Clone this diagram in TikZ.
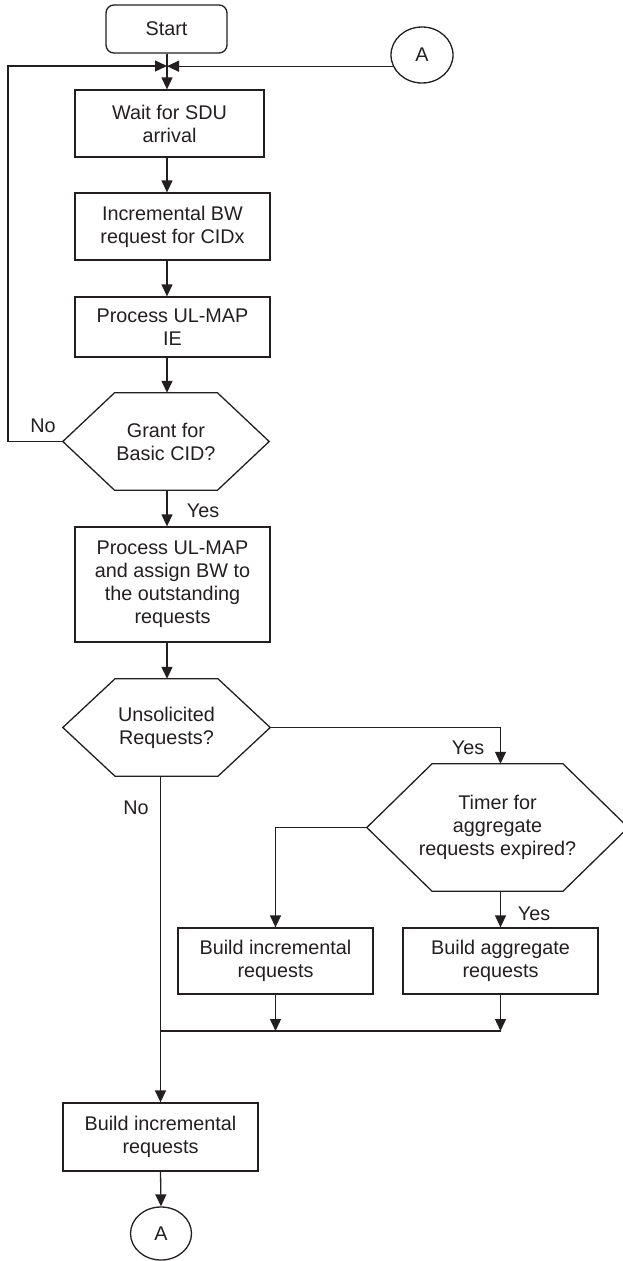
\documentclass[tikz,border=0pt]{standalone}
\usepackage{fontspec}
\setmainfont{Liberation Sans}
\usetikzlibrary{arrows.meta,shapes.geometric}
\definecolor{ink}{RGB}{35,31,32}

% hexagonal decision outline drawn around a plain rectangular node
\newcommand{\hexoutline}[2]{%
  \draw[line] (#1.west) -- ([xshift=-#2]#1.north) -- ([xshift=#2]#1.north)
    -- (#1.east) -- ([xshift=#2]#1.south) -- ([xshift=-#2]#1.south) -- cycle;}

\begin{document}
\begin{tikzpicture}[x=1pt,y=-1pt,
  txt/.style={font=\fontsize{19.8pt}{23pt}\selectfont, text=ink, align=center},
  line/.style={draw=ink, line width=1.3pt},
  arr/.style={line, -{Triangle[length=12pt,width=11pt]}},
  box/.style={txt, line, rectangle, inner sep=0pt},
  term/.style={box, rounded corners=8pt},
  hexnode/.style={txt, rectangle, inner sep=0pt},
  conn/.style={txt, line, ellipse, inner sep=0pt},
  lbl/.style={txt, inner sep=0pt}]
\useasboundingbox (0,0) rectangle (622,1261);

% main column
\node[term, minimum width=121pt, minimum height=48pt] (start) at (166.5,29) {Start};
\node[conn, minimum width=62pt, minimum height=56pt] (A1) at (422,55) {A};
\coordinate (jn) at (167,66);
\coordinate (lp) at (8,66);

\node[box, minimum width=189pt, minimum height=67pt] (b1) at (169.5,123.5) {Wait for SDU\\arrival};
\node[box, minimum width=195pt, minimum height=67pt] (b2) at (172.5,226.5) {Incremental BW\\request for CIDx};
\node[box, minimum width=195pt, minimum height=60pt] (b3) at (172.5,327) {Process UL-MAP\\IE};
\node[hexnode, minimum width=206pt, minimum height=97pt] (h1) at (166,441.5) {Grant for\\Basic CID?};
\hexoutline{h1}{51.5pt}
\node[box, minimum width=195pt, minimum height=115pt] (b4) at (172.5,584.5)
  {Process UL-MAP\\and assign BW to\\the outstanding\\requests};
\node[hexnode, minimum width=207pt, minimum height=97pt] (h2) at (166.5,727.5) {Unsolicited\\Requests?};
\hexoutline{h2}{51.5pt}

% right branch
\node[hexnode, minimum width=261pt, minimum height=127pt] (h3) at (497.5,827.5)
  {Timer for\\aggregate\\requests expired?};
\hexoutline{h3}{65.5pt}
\node[box, minimum width=195pt, minimum height=66pt] (b5) at (275.5,961) {Build incremental\\requests};
\node[box, minimum width=195pt, minimum height=66pt] (b6) at (500.5,961) {Build aggregate\\requests};
\coordinate (mg) at (500.5,1031);

% bottom
\node[box, minimum width=195pt, minimum height=68pt] (b7) at (160.5,1137) {Build incremental\\requests};
\node[conn, minimum width=61pt, minimum height=53pt] (A2) at (161,1233.5) {A};

% labels
\node[lbl] (no1) at (43,426) {No};
\node[lbl] (yes1) at (203,511) {Yes};
\node[lbl] (yes2) at (468,748) {Yes};
\node[lbl] (no2) at (136,808) {No};
\node[lbl] (yes3) at (534,914) {Yes};

% connectors
\draw[arr] (start.south -| jn) -- (b1.north -| jn);
\draw[arr] (h1.west) -- (h1.west -| lp) -- (lp) -- (jn);
\draw[arr] (A1.201) -- (A1.201 -| jn);
\draw[arr] (b1.south -| jn) -- (b2.north -| jn);
\draw[arr] (b2.south -| jn) -- (b3.north -| jn);
\draw[arr] (b3.south -| jn) -- (h1.north -| jn);
\draw[arr] (h1.south -| jn) -- (b4.north -| jn);
\draw[arr] (b4.south -| jn) -- (h2.north -| jn);
\draw[arr] (h2.east) -| (b6.north |- h3.north);
\draw[arr] (h3.west) -| (b5.north);
\draw[arr] (h3.south -| b6) -- (b6.north);
\draw[arr] (b5.south) -- (b5.south |- mg);
\draw[arr] (b6.south) -- (mg);
\draw[line] (mg) -- (mg -| b7);
\draw[arr] (h2.south -| b7) -- (b7.north);
\draw[arr] (b7.south) -- (A2.north);
\end{tikzpicture}
\end{document}
